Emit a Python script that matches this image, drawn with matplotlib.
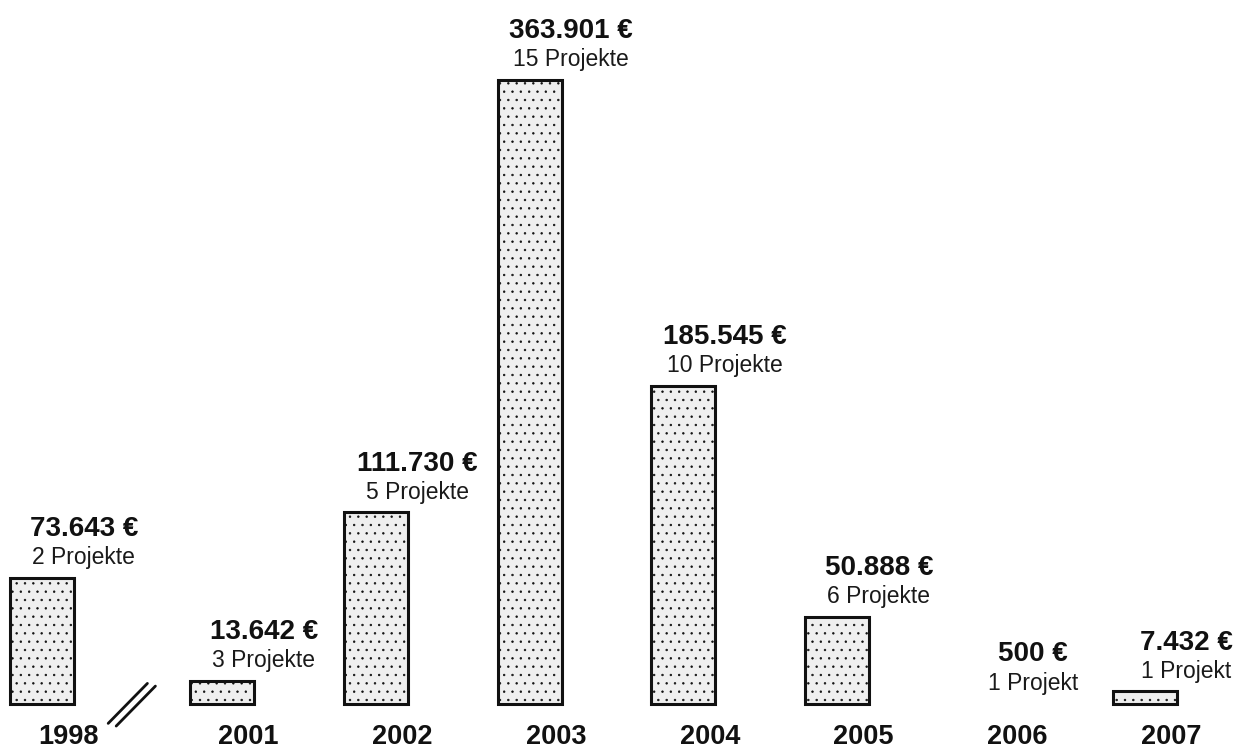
import numpy as np
import matplotlib
matplotlib.use("Agg")
import matplotlib.pyplot as plt

years = ["1998", "2001", "2002", "2003", "2004", "2005", "2006", "2007"]
amounts = [73643, 13642, 111730, 363901, 185545, 50888, 500, 7432]
amount_labels = ["73.643 €", "13.642 €", "111.730 €", "363.901 €",
                 "185.545 €", "50.888 €", "500 €", "7.432 €"]
projects = [2, 3, 5, 15, 10, 6, 1, 1]

plt.rcParams['font.family'] = ['Liberation Sans', 'DejaVu Sans']
plt.rcParams['hatch.color'] = '#b4b4b4'
plt.rcParams['hatch.linewidth'] = 0.5

fig = plt.figure(figsize=(12.4, 7.49), dpi=100)
ax = fig.add_axes([0, 0, 1, 1])

pos = np.arange(len(years), dtype=float)
pos[0] -= 0.17  # extra gap for the axis break after 1998

ax.set_xlim(-0.4434, 7.619)
ax.set_ylim(-26224, 410256)
ax.axis('off')

for p, v in zip(pos, amounts):
    visible = v > 1000
    ax.bar(p, v, width=0.416, bottom=0,
           facecolor='#efefef' if visible else 'none',
           edgecolor='#111111' if visible else 'none',
           linewidth=2.2, hatch='..' if visible else None, zorder=2)

for p, v, lab, n in zip(pos, amounts, amount_labels, projects):
    proj = f"{n} Projekt" if n == 1 else f"{n} Projekte"
    ax.annotate(proj, xy=(p, v), xytext=(30, 9.5), textcoords='offset points',
                ha='center', va='baseline', fontsize=16.5, color='#1a1a1a')
    ax.annotate(lab, xy=(p, v), xytext=(30, 30), textcoords='offset points',
                ha='center', va='baseline', fontsize=20, fontweight='bold',
                color='#111111')

for p, y in zip(pos, years):
    ax.annotate(y, xy=(p, 0), xytext=(19, -28.8), textcoords='offset points',
                ha='center', va='baseline', fontsize=19.5, fontweight='bold',
                color='#111111')

# axis-break marks between 1998 and 2001
mid = (pos[0] + pos[1]) / 2
for dx in (0.0, 0.052):
    ax.annotate('', xy=(mid + 0.10 + dx, 12000 - dx * 30000),
                xytext=(mid - 0.155 + dx, -11300 - dx * 30000),
                arrowprops=dict(arrowstyle='-', lw=2.0, color='#111111',
                                shrinkA=0, shrinkB=0))

fig.savefig("out.png", dpi=100)
